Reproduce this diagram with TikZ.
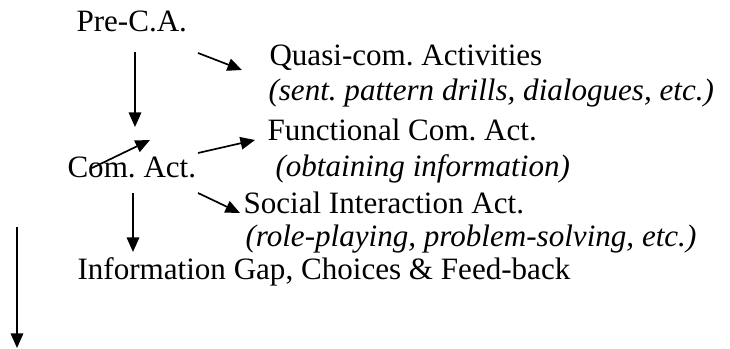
\documentclass[tikz,border=0pt]{standalone}
\usepackage{fontspec}
\setmainfont{Liberation Serif}
\usepackage{tikz}
\usetikzlibrary{arrows.meta,positioning}
\frenchspacing

\begin{document}
\begin{tikzpicture}[x=0.3861pt, y=-0.3861pt]
			\tikzstyle{Label}	= [anchor=base west, inner sep=0pt, font=\fontsize{12pt}{14pt}\selectfont]
			\tikzstyle{Note}	= [Label, font=\fontsize{12pt}{14pt}\selectfont\itshape]
			\tikzstyle{Flow}	= [line width=0.65pt, -{Triangle[length=5.6pt, width=4.8pt]}]

			\useasboundingbox (0,0) rectangle (730,349);

			\node (pre)      at (76, 32)  [Label] {Pre-C.A.};
			\node (quasi)    at (269, 66) [Label] {Quasi-com. Activities};
			\node (quasiex)  at (268, 101)[Note]  {(sent. pattern drills, dialogues, etc.)};
			\node (func)     at (267, 141)[Label] {Functional Com. Act.};
			\node (com)      at (67, 178) [Label] {Com. Act.};
			\node (funcex)   at (275, 177)[Note]  {(obtaining information)};
			\node (social)   at (243, 214)[Label] {Social Interaction Act.};
			\node (socialex) at (245, 247)[Note]  {(role-playing, problem-solving, etc.)};
			\node (info)     at (77, 280) [Label] {Information Gap, Choices \& Feed-back};

			% arrow ends
			\coordinate (preout)   at (135, 52);
			\coordinate (comin)    at (135, 127);
			\coordinate (quasiout) at (198, 53);
			\coordinate (quasiin)  at (242, 70);
			\coordinate (backout)  at (92, 168);
			\coordinate (backin)   at (150, 140);
			\coordinate (funcout)  at (198, 153);
			\coordinate (funcin)   at (255, 140);
			\coordinate (comout)   at (133, 193);
			\coordinate (infoin)   at (133, 252);
			\coordinate (socout)   at (198, 193);
			\coordinate (socin)    at (240, 213);
			\coordinate (axtop)    at (17, 227);
			\coordinate (axbot)    at (17, 348);

			\draw [Flow] (preout) to (comin);
			\draw [Flow] (quasiout) to (quasiin);
			\draw [Flow] (backout) to (backin);
			\draw [Flow] (funcout) to (funcin);
			\draw [Flow] (comout) to (infoin);
			\draw [Flow] (socout) to (socin);
			\draw [Flow] (axtop) to (axbot);
		\end{tikzpicture}
\end{document}
